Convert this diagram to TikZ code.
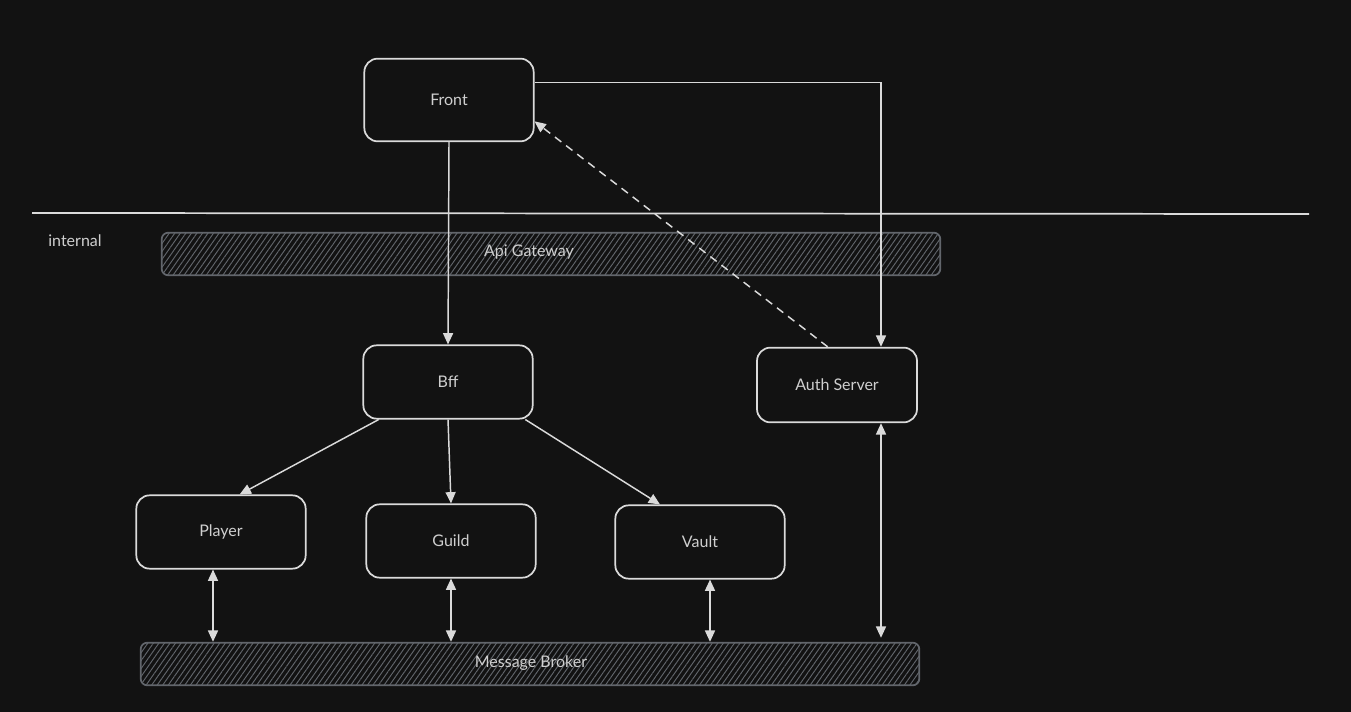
\documentclass[tikz,border=0pt]{standalone}
\usepackage{fontspec}
\setmainfont{Lato}
\usepackage{tikz}
\usetikzlibrary{arrows.meta, patterns.meta}

\definecolor{canvas}{HTML}{121212}
\definecolor{ink}{HTML}{DADADA}
\definecolor{label}{HTML}{CFCFCF}
\definecolor{slate}{HTML}{62666C}

\begin{document}
\begin{tikzpicture}[
    x=0.75pt, y=-0.75pt,
    service/.style={draw=ink, line width=1.3pt, rounded corners=10pt, fill=canvas, minimum width=127pt, minimum height=55pt, align=center, text=label, font=\fontsize{12}{14}\selectfont},
    bus/.style={draw=slate, line width=1.3pt, rounded corners=5pt, minimum width=584pt, minimum height=32pt, pattern={Lines[angle=55, distance=3.4pt, line width=0.7pt]}, pattern color=slate, text=label, font=\fontsize{12}{14}\selectfont},
    arrow/.style={draw=ink, line width=1.1pt, -{Triangle[length=8.5pt, width=7.5pt]}},
    duplex/.style={draw=ink, line width=1.1pt, {Triangle[length=8.5pt, width=7.5pt]}-{Triangle[length=8.5pt, width=7.5pt]}},
    back/.style={arrow, dash pattern=on 6pt off 4.5pt}
]
    \fill[canvas] (0,0) rectangle (1351,712);
    \useasboundingbox (0,0) rectangle (1351,712);

    % zone border
    \coordinate (zoneL) at (32,213);
    \coordinate (zoneR) at (1309,214);
    \draw[ink, line width=1.3pt] (zoneL) -- (zoneR);
    \node[text=label, font=\fontsize{12}{14}\selectfont] (internal) at (75,241) {internal};

    \node[service, minimum height=62pt] (front) at (449,100) {Front};
    \node[bus] (gateway) at (551,254) {};
    \node[text=label, font=\fontsize{12}{14}\selectfont] at (529,252) {Api Gateway};

    \node[service] (bff) at (448,382) {Bff};
    \node[service, minimum width=120pt, minimum height=56pt] (auth) at (837,385) {Auth Server};

    \node[service] (player) at (221,532) {Player};
    \node[service] (guild) at (451,541) {Guild};
    \node[service] (vault) at (700,542) {Vault};

    \node[bus] (broker) at (530,664) {};
    \node[text=label, font=\fontsize{12}{14}\selectfont] at (531,663) {Message Broker};

    \draw[arrow] (front.south) -- (bff.north);
    \draw[arrow] ([yshift=13pt]front.east) -| ([xshift=33pt]auth.north);
    \draw[back] ([xshift=-7pt]auth.north) -- ([yshift=-16pt]front.east);

    \draw[arrow] ([xshift=-52pt]bff.south) -- ([xshift=14pt]player.north);
    \draw[arrow] (bff.south) -- (guild.north);
    \draw[arrow] ([xshift=58pt]bff.south) -- ([xshift=-30pt]vault.north);

    \draw[duplex] ([xshift=-6pt]player.south) -- ([xshift=-6pt]player.south |- broker.north);
    \draw[duplex] (guild.south) -- (guild.south |- broker.north);
    \draw[duplex] ([xshift=7.5pt]vault.south) -- ([xshift=7.5pt]vault.south |- broker.north);
    \draw[duplex] ([xshift=33pt]auth.south) -- ([xshift=33pt, yshift=3pt]auth.south |- broker.north);
\end{tikzpicture}
\end{document}
